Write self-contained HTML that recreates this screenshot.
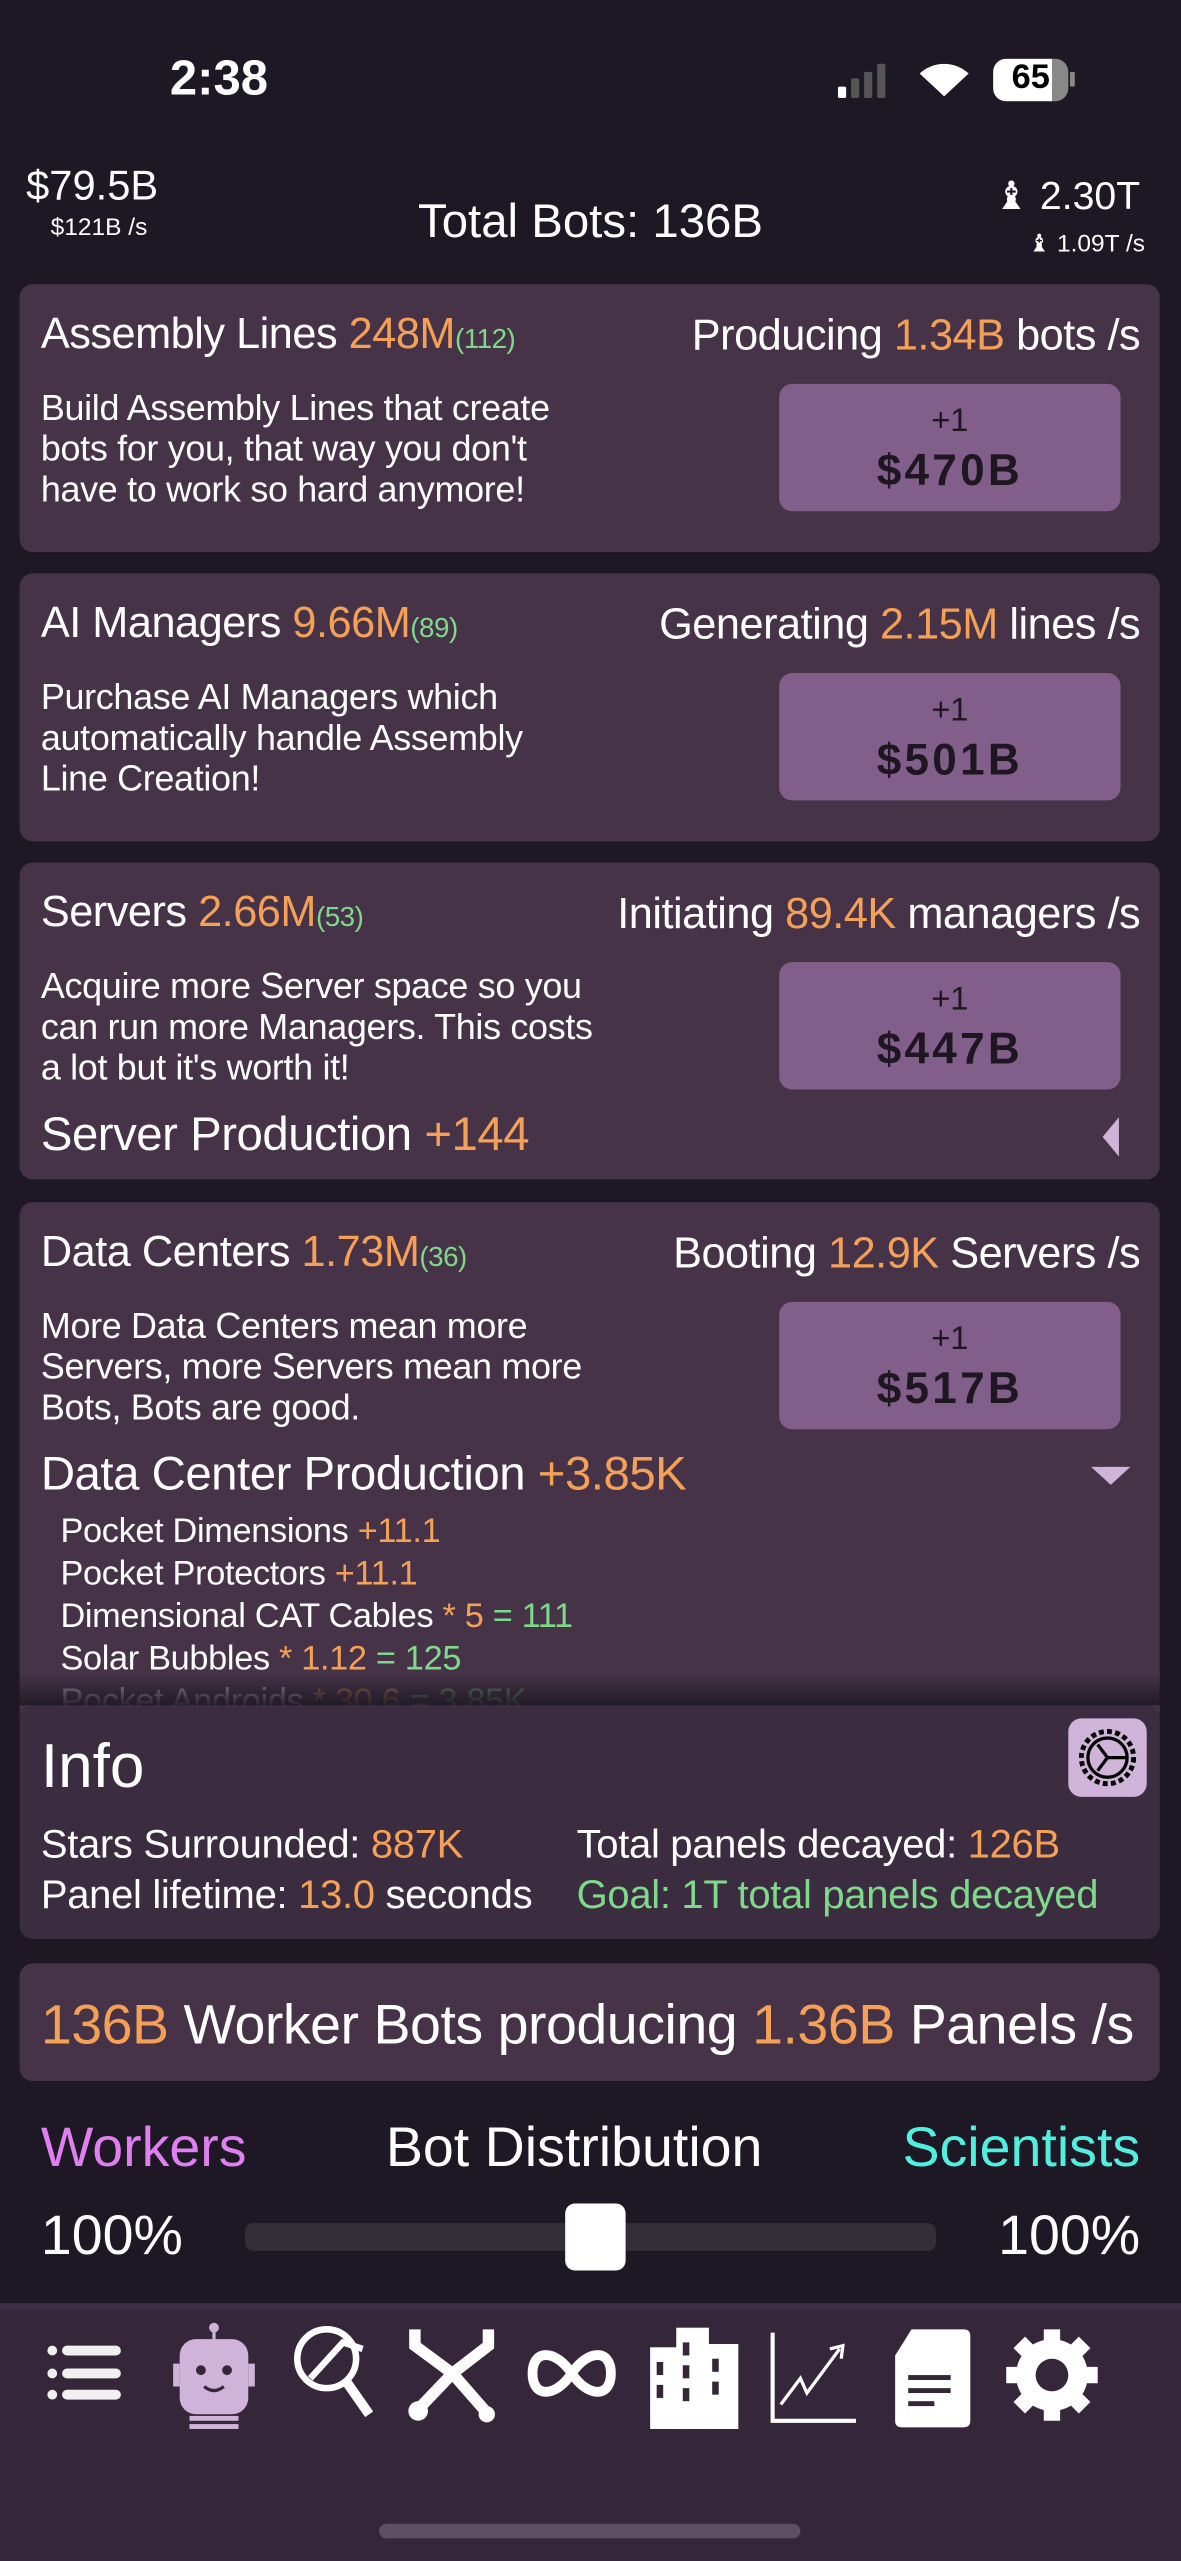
<!DOCTYPE html>
<html><head><meta charset="utf-8">
<style>
*{margin:0;padding:0;box-sizing:border-box}
html,body{width:1181px;height:2560px;overflow:hidden;background:#1e1824}
#w{position:absolute;left:0;top:0;width:723px;height:1568px;transform:scale(1.63347);transform-origin:0 0;font-family:"Liberation Sans",sans-serif;color:#fff}
.a{position:absolute;white-space:nowrap;line-height:1}
.o{color:#f5a057}.g{color:#7fd98a}
.card{position:absolute;left:12px;width:698px;background:#463348;border-radius:8px;overflow:hidden}
.btn{position:absolute;left:465px;width:209px;height:78px;background:#825f8a;border-radius:8px;color:#1e1620;text-align:center}
.btn .p{position:absolute;top:13px;width:100%;font-size:20px;line-height:1}
.btn .c{position:absolute;top:40px;width:100%;font-size:27px;font-weight:bold;line-height:1;letter-spacing:2px}
.t{font-size:26.5px;letter-spacing:-0.3px}
.d{font-size:22px;line-height:25px;letter-spacing:-0.2px}
.sm{font-size:17px}
</style></head><body><div id="w">
<div class="a" style="left:104px;top:34px;font-size:30px;font-weight:bold">2:38</div>
<div style="position:absolute;left:513px;top:53px;width:5px;height:7px;background:#fff;border-radius:1px"></div>
<div style="position:absolute;left:521px;top:48px;width:5px;height:12px;background:#555;border-radius:1px"></div>
<div style="position:absolute;left:529px;top:44px;width:5px;height:16px;background:#555;border-radius:1px"></div>
<div style="position:absolute;left:537px;top:39px;width:5px;height:21px;background:#555;border-radius:1px"></div>
<svg style="position:absolute;left:561px;top:37px" width="34" height="24" viewBox="0 0 34 24"><path d="M17 22 L2 8 A22 22 0 0 1 32 8 Z" fill="#fff"/></svg>
<div style="position:absolute;left:608px;top:36px;width:46px;height:26px;background:#888;border-radius:8px;overflow:hidden"><div style="width:36px;height:26px;background:#fff"></div></div>
<div style="position:absolute;left:655px;top:44px;width:3px;height:9px;background:#888;border-radius:1px"></div>
<div class="a" style="left:608px;top:37px;width:46px;text-align:center;font-size:21px;font-weight:bold;color:#000">65</div>

<div class="a" style="left:16px;top:102px;font-size:25.5px">$79.5B</div>
<div class="a" style="left:31px;top:132px;font-size:15px">$121B /s</div>
<div class="a" style="left:0;width:723px;text-align:center;top:122px;font-size:29px">Total Bots: 136B</div>
<div class="a" style="right:25px;top:109px;font-size:24px">♝ 2.30T</div>
<div class="a" style="right:22px;top:142px;font-size:15px">♝ 1.09T /s</div>

<div class="card" style="top:174px;height:164px">
<div class="a t" style="left:13px;top:17px">Assembly Lines <span class="o">248M</span><span class="g sm">(112)</span></div>
<div class="a t" style="right:12px;top:18px">Producing <span class="o">1.34B</span> bots /s</div>
<div class="a d" style="left:13px;top:63px">Build Assembly Lines that create<br>bots for you, that way you don't<br>have to work so hard anymore!</div>
<div class="btn" style="top:61px"><div class="p">+1</div><div class="c">$470B</div></div>
</div>

<div class="card" style="top:351px;height:164px">
<div class="a t" style="left:13px;top:17px">AI Managers <span class="o">9.66M</span><span class="g sm">(89)</span></div>
<div class="a t" style="right:12px;top:18px">Generating <span class="o">2.15M</span> lines /s</div>
<div class="a d" style="left:13px;top:63px">Purchase AI Managers which<br>automatically handle Assembly<br>Line Creation!</div>
<div class="btn" style="top:61px"><div class="p">+1</div><div class="c">$501B</div></div>
</div>

<div class="card" style="top:528px;height:194px">
<div class="a t" style="left:13px;top:17px">Servers <span class="o">2.66M</span><span class="g sm">(53)</span></div>
<div class="a t" style="right:12px;top:18px">Initiating <span class="o">89.4K</span> managers /s</div>
<div class="a d" style="left:13px;top:63px">Acquire more Server space so you<br>can run more Managers. This costs<br>a lot but it's worth it!</div>
<div class="btn" style="top:61px"><div class="p">+1</div><div class="c">$447B</div></div>
<div class="a" style="left:13px;top:153px;font-size:29px;letter-spacing:-0.3px">Server Production <span class="o">+144</span></div>
<div style="position:absolute;left:663px;top:156px;width:0;height:0;border-top:12px solid transparent;border-bottom:12px solid transparent;border-right:10px solid #cfb3d8"></div>
</div>

<div class="card" style="top:736px;height:320px">
<div class="a t" style="left:13px;top:17px">Data Centers <span class="o">1.73M</span><span class="g sm">(36)</span></div>
<div class="a t" style="right:12px;top:18px">Booting <span class="o">12.9K</span> Servers /s</div>
<div class="a d" style="left:13px;top:63px">More Data Centers mean more<br>Servers, more Servers mean more<br>Bots, Bots are good.</div>
<div class="btn" style="top:61px"><div class="p">+1</div><div class="c">$517B</div></div>
<div class="a" style="left:13px;top:153px;font-size:29px;letter-spacing:-0.3px">Data Center Production <span class="o">+3.85K</span></div>
<div style="position:absolute;left:656px;top:162px;width:0;height:0;border-left:12px solid transparent;border-right:12px solid transparent;border-top:11px solid #cfb3d8"></div>
<div class="a" style="left:25px;top:189px;font-size:21px;line-height:26px;letter-spacing:-0.2px">Pocket Dimensions <span class="o">+11.1</span><br>Pocket Protectors <span class="o">+11.1</span><br>Dimensional CAT Cables <span class="o">* 5</span> <span class="g">= 111</span><br>Solar Bubbles <span class="o">* 1.12</span> <span class="g">= 125</span><br><span style="opacity:.45">Pocket Androids <span class="o">* 30.6</span> <span class="g">= 3.85K</span></span></div>
</div>
<div style="position:absolute;left:0;top:1024px;width:723px;height:20px;background:linear-gradient(rgba(30,24,36,0),rgba(30,24,36,.9))"></div>

<div class="card" style="top:1044px;height:143px;background:#3c2c40">
<div class="a" style="left:13px;top:19px;font-size:38px">Info</div>
<div style="position:absolute;left:642px;top:8px;width:48px;height:48px;background:#cfb3d8;border-radius:8px"></div>
<svg style="position:absolute;left:646px;top:12px" width="40" height="40" viewBox="0 0 40 40"><circle cx="20" cy="20" r="16" fill="none" stroke="#000" stroke-width="3" stroke-dasharray="3 2"/><circle cx="20" cy="20" r="12" fill="none" stroke="#000" stroke-width="2"/><path d="M20 20 L14 12 M20 20 L14 28 M20 20 L31 20" stroke="#000" stroke-width="2"/></svg>
<div class="a" style="left:13px;top:74px;font-size:24.5px;letter-spacing:-0.2px">Stars Surrounded: <span class="o">887K</span></div>
<div class="a" style="left:13px;top:105px;font-size:24.5px;letter-spacing:-0.2px">Panel lifetime: <span class="o">13.0</span> seconds</div>
<div class="a" style="left:341px;top:74px;font-size:24.5px;letter-spacing:-0.2px">Total panels decayed: <span class="o">126B</span></div>
<div class="a g" style="left:341px;top:105px;font-size:24.5px;letter-spacing:-0.2px">Goal: 1T total panels decayed</div>
</div>

<div class="card" style="top:1202px;height:72px">
<div class="a" style="left:13px;top:21px;font-size:34px;letter-spacing:-0.3px"><span class="o">136B</span> Worker Bots producing <span class="o">1.36B</span> Panels /s</div>
</div>

<div class="a" style="left:25px;top:1298px;font-size:34px;color:#e07ff0">Workers</div>
<div class="a" style="left:0;width:703px;text-align:center;top:1298px;font-size:34px">Bot Distribution</div>
<div class="a" style="right:25px;top:1298px;font-size:34px;color:#4ff0e0">Scientists</div>
<div class="a" style="left:25px;top:1352px;font-size:34px">100%</div>
<div class="a" style="right:25px;top:1352px;font-size:34px">100%</div>
<div style="position:absolute;left:150px;top:1361px;width:423px;height:17px;background:#342e38;border-radius:5px"></div>
<div style="position:absolute;left:346px;top:1349px;width:37px;height:41px;background:#fff;border-radius:6px"></div>

<div style="position:absolute;left:0;top:1410px;width:723px;height:158px;background:#352639;border-top:4px solid #3e2c44"></div>
<svg style="position:absolute;left:0;top:1420px" width="723" height="70" viewBox="0 0 723 70">
<g fill="#f0f0f0"><circle cx="32" cy="19" r="3"/><circle cx="32" cy="33" r="3"/><circle cx="32" cy="46" r="3"/><rect x="38" y="16" width="36" height="6" rx="3"/><rect x="38" y="30" width="36" height="6" rx="3"/><rect x="38" y="43" width="36" height="6" rx="3"/></g>
<g fill="#cfb3d8"><rect x="110" y="12" width="42" height="46" rx="10"/><rect x="106" y="27" width="4" height="14"/><rect x="152" y="27" width="4" height="14"/><circle cx="131" cy="5" r="3"/><rect x="130" y="6" width="2" height="7"/><rect x="116" y="59" width="30" height="3"/><rect x="116" y="64" width="30" height="3"/></g>
<g fill="#352639"><circle cx="123" cy="31" r="3"/><circle cx="139" cy="31" r="3"/></g>
<path d="M125 41 Q131 46 137 41" stroke="#352639" stroke-width="2" fill="none"/>
<g stroke="#fff" fill="none" stroke-width="4"><circle cx="200" cy="24" r="18"/><path d="M212 38 L226 58" stroke-width="6"/><path d="M190 36 L210 14 L222 18"/></g>
<g stroke="#fff" stroke-width="7" fill="none"><path d="M254 6 L254 16 L277 33 L299 16 L299 6"/><path d="M277 33 L256 55 M277 33 L298 57"/></g>
<circle cx="256" cy="56" r="6" fill="#fff"/><circle cx="298" cy="58" r="5" fill="#fff"/>
<path d="M350 33 C340 18 326 18 326 33 C326 48 340 48 350 33 C360 18 374 18 374 33 C374 48 360 48 350 33 Z" stroke="#fff" stroke-width="6" fill="none"/>
<g fill="#fff"><rect x="398" y="17" width="20" height="50"/><rect x="414" y="5" width="20" height="62"/><rect x="432" y="15" width="20" height="52"/></g>
<g fill="#352639"><rect x="402" y="26" width="4" height="8"/><rect x="402" y="40" width="4" height="8"/><rect x="418" y="14" width="4" height="8"/><rect x="418" y="28" width="4" height="8"/><rect x="418" y="42" width="4" height="8"/><rect x="436" y="24" width="4" height="8"/><rect x="436" y="38" width="4" height="8"/></g>
<path d="M473 8 L473 62 L524 62" stroke="#fff" stroke-width="2.5" fill="none"/><path d="M478 52 L490 36 L494 45 L514 18 M508 18 L516 16 L515 24" stroke="#fff" stroke-width="2" fill="none"/>
<path d="M558 6 L590 6 Q594 6 594 10 L594 62 Q594 66 590 66 L552 66 Q548 66 548 62 L548 22 Z" fill="#fff"/><g fill="#352639"><rect x="556" y="34" width="26" height="3"/><rect x="556" y="42" width="26" height="3"/><rect x="556" y="50" width="16" height="3"/></g>
<circle cx="644" cy="34" r="22" fill="#fff"/><g stroke="#fff" stroke-width="10"><path d="M644 6 L644 62 M616 34 L672 34 M624 14 L664 54 M664 14 L624 54"/></g><circle cx="644" cy="34" r="10" fill="#352639"/>
</svg>
<div style="position:absolute;left:232px;top:1545px;width:258px;height:9px;background:#5e5064;border-radius:5px"></div>
</div></body></html>
